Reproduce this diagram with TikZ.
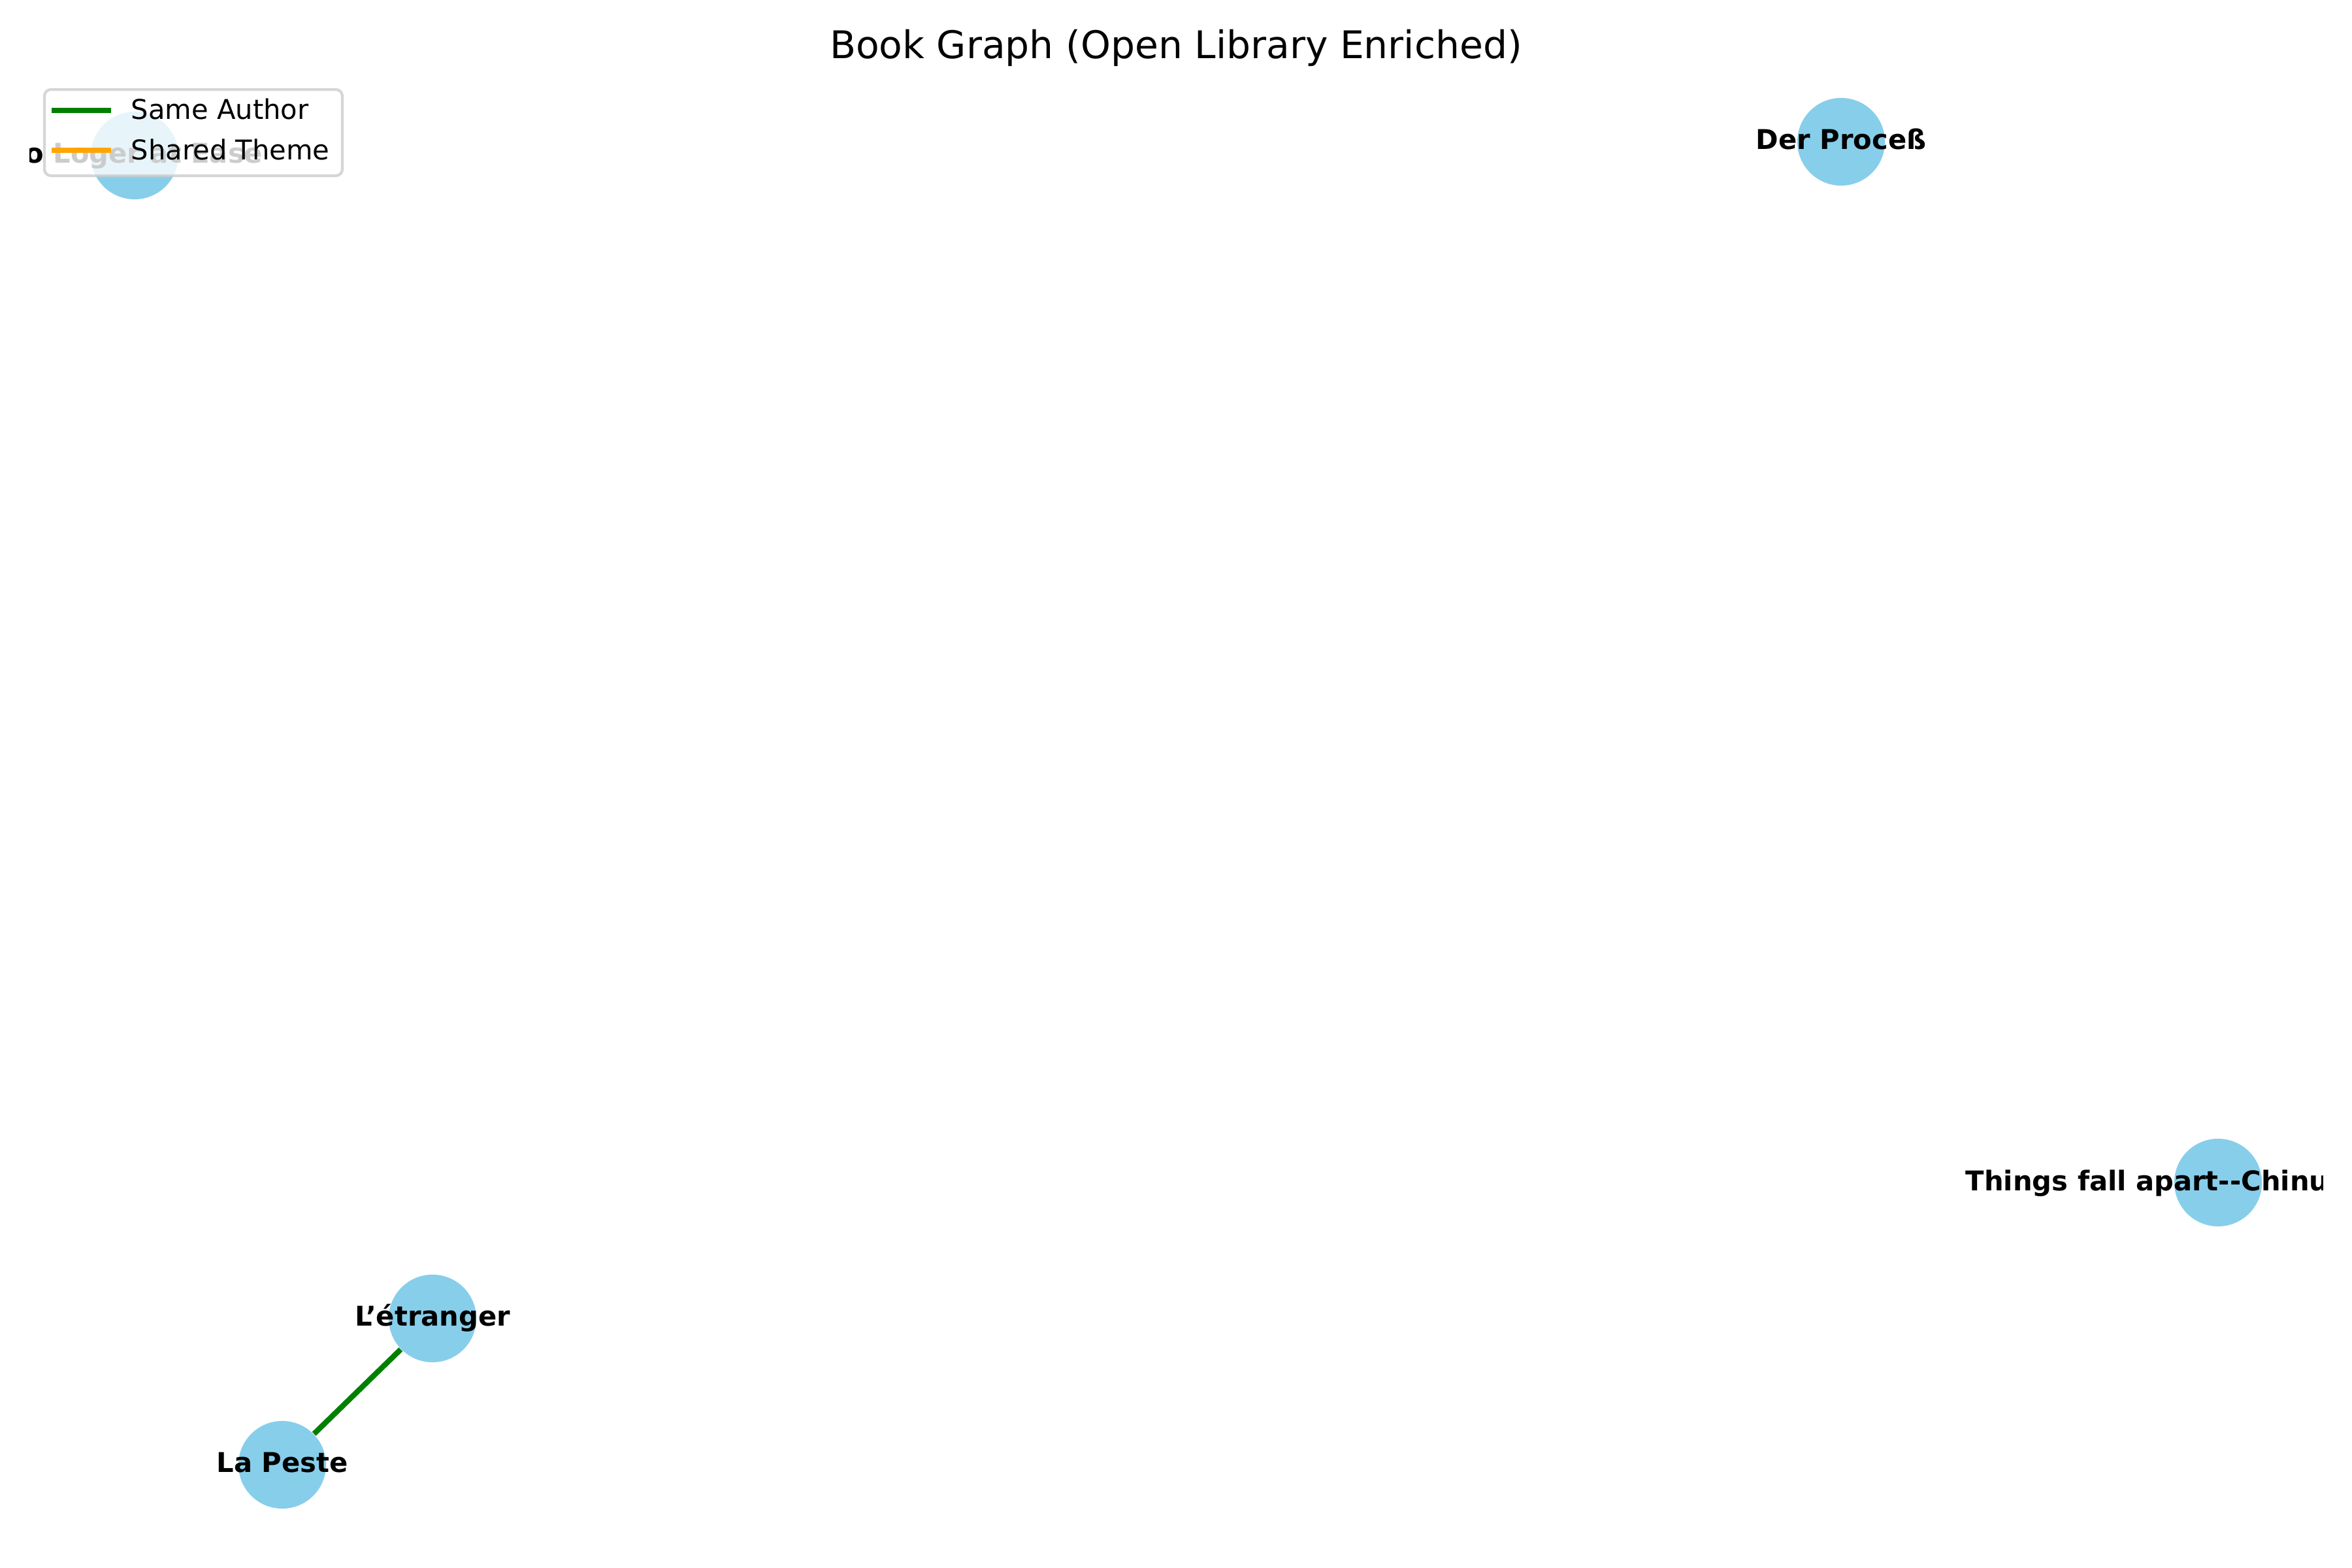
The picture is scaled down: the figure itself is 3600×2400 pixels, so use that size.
\documentclass[tikz,border=0pt]{standalone}
\usepackage{fontspec}
\setmainfont{DejaVu Sans}[Ligatures=TeXOff]
\definecolor{skyblue}{HTML}{87CEEB}
\definecolor{authorgreen}{HTML}{008000}
\definecolor{themeorange}{HTML}{FFA500}

\begin{document}
\begin{tikzpicture}[x=0.24pt, y=-0.24pt,
  book/.style={circle, fill=skyblue, inner sep=0, minimum size=32.2pt},
  booktitle/.style={font=\bfseries, inner sep=0, text height=7.5pt, text depth=2.2pt},
  keyline/.style={line width=2pt, line cap=rect},
  keytext/.style={anchor=base west, inner sep=0}]

\useasboundingbox (0,0) rectangle (3600,2400);

\node [font=\fontsize{14}{17}\selectfont, anchor=base, inner sep=0] (title) at (1800,90) {Book Graph (Open Library Enriched)};

\node [book] (ease) at (206,238) {};
\node [book] (process) at (2818,217) {};
\node [book] (things) at (3395,1810) {};
\node [book] (etranger) at (662,2018) {};
\node [book] (peste) at (432,2242) {};

\draw [authorgreen, line width=2pt] (peste) -- (etranger);

\begin{scope}
\clip (45,0) rectangle (3555,2400);
\node [booktitle, anchor=base east] (easeL) at (403,250) {o Loger at Ease};
\node [booktitle] (processL) at (process) {Der Proceß};
\node [booktitle, anchor=base west] (thingsL) at (3008,1822) {Things fall apart--Chinu};
\node [booktitle] (etrangerL) at (etranger) {L’étranger};
\node [booktitle] (pesteL) at (peste) {La Peste};
\end{scope}

\draw [fill=white, draw=black!20, opacity=.8, rounded corners=2.4pt, line width=1pt] (68,137) rectangle (524,269);
\draw [keyline, authorgreen] (83,169) -- (166,169);
\draw [keyline, themeorange] (83,230) -- (166,230);
\node [keytext] (authorkey) at (200,183) {Same Author};
\node [keytext] (themekey) at (200,245) {Shared Theme};

\end{tikzpicture}
\end{document}
